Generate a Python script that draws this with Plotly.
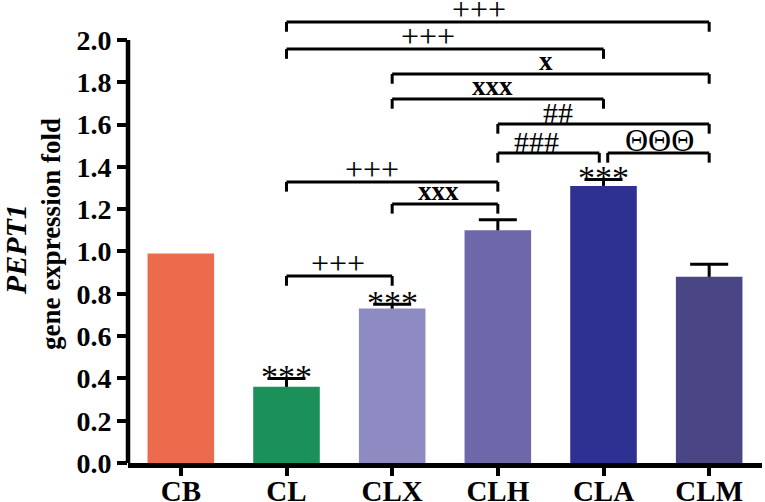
import plotly.graph_objects as go

# ---------------- data ----------------
categories = ["CB", "CL", "CLX", "CLH", "CLA", "CLM"]
values = [0.99, 0.36, 0.73, 1.10, 1.31, 0.88]
errors = [0.0, 0.04, 0.02, 0.05, 0.03, 0.06]
colors = ["#EB6B4C", "#1B9159", "#8E8AC2", "#6D68AA", "#2E3192", "#4A4585"]
star_labels = ["", "***", "***", "", "***", ""]
y_ticks = [0.0, 0.2, 0.4, 0.6, 0.8, 1.0, 1.2, 1.4, 1.6, 1.8, 2.0]

# significance comparisons (group index from, group index to, bracket height, label)
comp_left = [1, 1, 2, 2, 3, 3, 4, 1, 2, 1]
comp_right = [5, 4, 5, 4, 5, 4, 5, 3, 3, 2]
comp_level = [2.085, 1.957, 1.839, 1.721, 1.603, 1.466, 1.466, 1.329, 1.225, 0.884]
comp_label = ["+++", "+++", "x", "xxx", "##", "###", "ΘΘΘ", "+++", "xxx", "+++"]
comp_label_x = [2.82, 2.34, 3.46, 2.95, 3.57, 3.37, 4.53, 1.81, 2.44, 1.49]
comp_label_bold = [False, False, True, True, False, False, False, False, True, False]
comp_label_size = [32, 32, 27, 27, 30, 30, 32, 32, 27, 32]

FONT = "Liberation Serif"

fig = go.Figure()
fig.add_trace(go.Bar(
    x=categories, y=values,
    marker=dict(color=colors, line=dict(width=0)),
    width=0.63,
    showlegend=False,
    hoverinfo="skip",
))

shapes = []
annotations = []

# error bars (upper only)
cap = 0.18
for i, (v, e) in enumerate(zip(values, errors)):
    if e <= 0:
        continue
    shapes.append(dict(type="line", xref="x", yref="y", x0=i, x1=i, y0=v, y1=v + e,
                       line=dict(color="black", width=3)))
    shapes.append(dict(type="line", xref="x", yref="y", x0=i - cap, x1=i + cap, y0=v + e, y1=v + e,
                       line=dict(color="black", width=3)))

# stars above bars
for i, (v, e, s) in enumerate(zip(values, errors, star_labels)):
    if not s:
        continue
    annotations.append(dict(x=i, y=v + e, xref="x", yref="y", text=s, showarrow=False,
                            yanchor="middle", yshift=2,
                            font=dict(family=FONT, size=34, color="black")))

# brackets
drop = 0.046
for l, r, lev, lab, lx, b, fs in zip(comp_left, comp_right, comp_level, comp_label,
                                     comp_label_x, comp_label_bold, comp_label_size):
    x0 = l
    x1 = r
    if l == 4:
        x0 = l + 0.04
    if r == 4 and l == 3:
        x1 = r - 0.04
    lw = 3
    shapes.append(dict(type="line", xref="x", yref="y", x0=x0, x1=x1, y0=lev, y1=lev,
                       line=dict(color="black", width=lw)))
    shapes.append(dict(type="line", xref="x", yref="y", x0=x0, x1=x0, y0=lev, y1=lev - drop,
                       line=dict(color="black", width=lw)))
    shapes.append(dict(type="line", xref="x", yref="y", x0=x1, x1=x1, y0=lev, y1=lev - drop,
                       line=dict(color="black", width=lw)))
    annotations.append(dict(x=lx, y=lev, xref="x", yref="y", text=lab, showarrow=False,
                            yanchor="bottom", yshift=-4 if b else -7,
                            font=dict(family=FONT, size=fs, color="black",
                                      weight="bold" if b else "normal")))

# y axis line only up to 2.0
shapes.append(dict(type="line", xref="paper", yref="y", x0=0, x1=0, y0=-0.022, y1=2.0,
                   line=dict(color="black", width=4.5)))

# y-axis title
annotations.append(dict(x=-0.121, y=0.495, xref="paper", yref="paper", text="<b>gene expression fold</b>",
                        textangle=-90, showarrow=False, xanchor="center", yanchor="middle",
                        font=dict(family=FONT, size=27, color="black")))
annotations.append(dict(x=-0.178, y=0.46, xref="paper", yref="paper", text="<b><i>PEPT1</i></b>",
                        textangle=-90, showarrow=False, xanchor="center", yanchor="middle",
                        font=dict(family=FONT, size=30, color="black")))

fig.update_layout(
    width=765, height=502,
    margin=dict(l=128, r=3, t=0, b=39, autoexpand=False),
    plot_bgcolor="white", paper_bgcolor="white",
    shapes=shapes, annotations=annotations,
    bargap=0.37,
)
fig.update_xaxes(
    range=[-0.5, 5.5], showline=True, linecolor="black", linewidth=4.5,
    ticks="outside", ticklen=8, tickwidth=4, tickcolor="black",
    showgrid=False, zeroline=False, automargin=False,
    ticklabelstandoff=-10,
    tickfont=dict(family=FONT, size=29, color="black", weight="bold"),
)
fig.update_yaxes(
    range=[0, 2.189], showline=False,
    tickvals=y_ticks, ticktext=[f"{t:.1f}" for t in y_ticks],
    ticks="outside", ticklen=10, tickwidth=4, tickcolor="black",
    showgrid=False, zeroline=False, automargin=False,
    tickfont=dict(family=FONT, size=28, color="black", weight="bold"),
)

fig.write_html("out.html", config={"displayModeBar": False},
               post_script="document.body.style.margin='0';")
